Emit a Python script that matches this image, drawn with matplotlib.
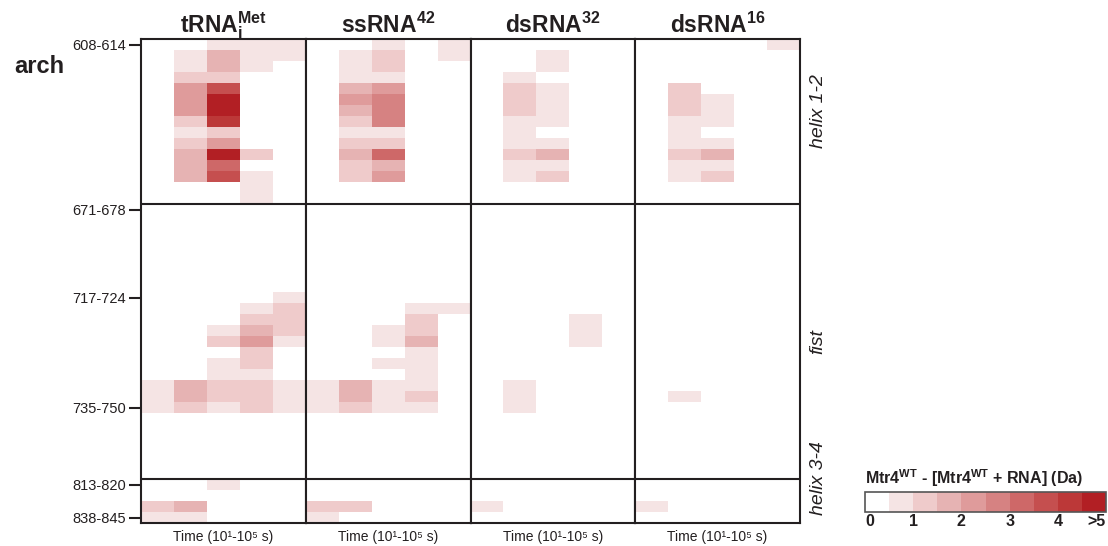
import numpy as np
import matplotlib
matplotlib.use("Agg")
import matplotlib.pyplot as plt
from matplotlib.colors import ListedColormap, BoundaryNorm
from matplotlib.cm import ScalarMappable

plt.rcParams['font.family'] = ['Liberation Sans', 'DejaVu Sans']
plt.rcParams['mathtext.fontset'] = 'custom'
plt.rcParams['mathtext.rm'] = 'Liberation Sans'
plt.rcParams['mathtext.bf'] = 'Liberation Sans:bold'
plt.rcParams['mathtext.it'] = 'Liberation Sans:italic'

# peptides (rows, top to bottom) and time points (columns)
n_rows = 44
n_times = 5
section_names = ["helix 1-2", "fist", "helix 3-4"]
section_breaks = [15, 40]
tick_rows = [0, 15, 23, 33, 40, 43]
tick_labels = ["608-614", "671-678", "717-724", "735-750", "813-820", "838-845"]

rna_names = [r"$\mathbf{tRNA_i^{Met}}$", r"$\mathbf{ssRNA^{42}}$",
             r"$\mathbf{dsRNA^{32}}$", r"$\mathbf{dsRNA^{16}}$"]

# deuterium difference (Da), row index -> values at the 5 time points
trna = {
    0: [0, 0, .7, .7, .7],
    1: [0, .7, 1.7, .7, .7],
    2: [0, .7, 1.7, .7, 0],
    3: [0, 1.2, 1.2, 0, 0],
    4: [0, 2.2, 3.7, 0, 0],
    5: [0, 2.2, 4.8, 0, 0],
    6: [0, 2.2, 4.8, 0, 0],
    7: [0, 1.2, 4.2, 0, 0],
    8: [0, .7, 1.2, 0, 0],
    9: [0, 1.2, 2.2, 0, 0],
    10: [0, 1.7, 4.8, 1.2, 0],
    11: [0, 1.7, 3.2, 0, 0],
    12: [0, 1.7, 3.7, .7, 0],
    13: [0, 0, 0, .7, 0],
    14: [0, 0, 0, .7, 0],
    23: [0, 0, 0, 0, .7],
    24: [0, 0, 0, .7, 1.2],
    25: [0, 0, 0, 1.2, 1.2],
    26: [0, 0, .7, 1.7, 1.2],
    27: [0, 0, 1.2, 2.2, .7],
    28: [0, 0, 0, 1.2, 0],
    29: [0, 0, .7, 1.2, 0],
    30: [0, 0, .7, .7, 0],
    31: [.7, 1.7, 1.2, 1.2, .7],
    32: [.7, 1.7, 1.2, 1.2, .7],
    33: [.7, 1.2, .7, 1.2, .7],
    40: [0, 0, .7, 0, 0],
    42: [1.2, 1.7, 0, 0, 0],
    43: [.7, .7, 0, 0, 0],
}

ssrna = {
    0: [0, 0, .7, 0, .7],
    1: [0, .7, 1.2, 0, .7],
    2: [0, .7, 1.2, 0, 0],
    3: [0, .7, .7, 0, 0],
    4: [0, 1.7, 2.2, 0, 0],
    5: [0, 2.2, 2.7, 0, 0],
    6: [0, 1.7, 2.7, 0, 0],
    7: [0, 1.2, 2.7, 0, 0],
    8: [0, .7, .7, 0, 0],
    9: [0, 1.2, 1.2, 0, 0],
    10: [0, 1.7, 3.2, 0, 0],
    11: [0, 1.2, 1.7, 0, 0],
    12: [0, 1.2, 2.2, 0, 0],
    24: [0, 0, 0, .7, .7],
    25: [0, 0, 0, 1.2, 0],
    26: [0, 0, .7, 1.2, 0],
    27: [0, 0, .7, 1.7, 0],
    28: [0, 0, 0, .7, 0],
    29: [0, 0, .7, .7, 0],
    30: [0, 0, 0, .7, 0],
    31: [.7, 1.7, .7, .7, 0],
    32: [.7, 1.7, .7, 1.2, 0],
    33: [.7, 1.2, .7, .7, 0],
    42: [1.2, 1.2, 0, 0, 0],
    43: [.7, 0, 0, 0, 0],
}

dsrna32 = {
    1: [0, 0, .7, 0, 0],
    2: [0, 0, .7, 0, 0],
    3: [0, .7, 0, 0, 0],
    4: [0, 1.2, .7, 0, 0],
    5: [0, 1.2, .7, 0, 0],
    6: [0, 1.2, .7, 0, 0],
    7: [0, .7, .7, 0, 0],
    8: [0, .7, 0, 0, 0],
    9: [0, .7, .7, 0, 0],
    10: [0, 1.2, 1.7, 0, 0],
    11: [0, .7, .7, 0, 0],
    12: [0, .7, 1.2, 0, 0],
    25: [0, 0, 0, .7, 0],
    26: [0, 0, 0, .7, 0],
    27: [0, 0, 0, .7, 0],
    31: [0, .7, 0, 0, 0],
    32: [0, .7, 0, 0, 0],
    33: [0, .7, 0, 0, 0],
    42: [.7, 0, 0, 0, 0],
}

dsrna16 = {
    0: [0, 0, 0, 0, .7],
    4: [0, 1.2, 0, 0, 0],
    5: [0, 1.2, .7, 0, 0],
    6: [0, 1.2, .7, 0, 0],
    7: [0, .7, .7, 0, 0],
    8: [0, .7, 0, 0, 0],
    9: [0, .7, .7, 0, 0],
    10: [0, 1.2, 1.7, 0, 0],
    11: [0, .7, .7, 0, 0],
    12: [0, .7, 1.2, 0, 0],
    32: [0, .7, 0, 0, 0],
    42: [.7, 0, 0, 0, 0],
}

panels = [trna, ssrna, dsrna32, dsrna16]

colors = ["#ffffff", "#f5e4e4", "#efcbcb", "#e6b3b3", "#df9b9b",
          "#d68282", "#ce6868", "#c54f4f", "#bc3838", "#b21f24"]
bounds = np.arange(0, 5.01, 0.5)
cmap = ListedColormap(colors)
cmap.set_over(colors[-1])
norm = BoundaryNorm(bounds, cmap.N)

dark = "#231f20"


def to_grid(d):
    g = np.zeros((n_rows, n_times))
    for r, vals in d.items():
        g[r] = vals
    return g


W, H = 1108, 546
fig = plt.figure(figsize=(W / 100, H / 100), dpi=100)

x0, x1 = 141.3, 799.7
y_top, y_bot = 39.3, 523
pw = (x1 - x0) / 4

axes = []
for i, d in enumerate(panels):
    ax = fig.add_axes([(x0 + i * pw) / W, (H - y_bot) / H, pw / W, (y_bot - y_top) / H])
    ax.pcolormesh(np.arange(n_times + 1), np.arange(n_rows + 1), to_grid(d),
                  cmap=cmap, norm=norm)
    ax.set_xlim(0, n_times)
    ax.set_ylim(n_rows, 0)
    for b in section_breaks:
        ax.axhline(b, color=dark, lw=1.5)
    for s in ax.spines.values():
        s.set_linewidth(1.5)
        s.set_color(dark)
    ax.set_xticks([])
    ax.set_yticks([])
    ax.text(0.5, 1.014, rna_names[i], transform=ax.transAxes, ha='center',
            va='baseline', fontsize=16.5, color=dark)
    ax.text(0.5, -0.037, "Time (10¹-10⁵ s)", transform=ax.transAxes,
            ha='center', va='baseline', fontsize=10, color=dark)
    axes.append(ax)

ax = axes[0]
ax.set_yticks(np.array(tick_rows) + 0.5)
ax.set_yticklabels(tick_labels, fontsize=10.5, color=dark)
ax.tick_params(axis='y', length=8.5, width=1.5, color=dark, pad=2.5)

fig.text(14 / W, (H - 73) / H, "arch", fontsize=17, fontweight='bold',
         color=dark, ha='left', va='baseline')

# section labels on the right
label_y = [111, 342, 478]
for name, yy in zip(section_names, label_y):
    fig.text(818 / W, (H - yy) / H, name, rotation=90, fontsize=14,
             fontstyle='italic', color=dark, ha='center', va='center')

# colour scale
cax = fig.add_axes([865 / W, (H - 512) / H, 241 / W, 20 / H])
cb = fig.colorbar(ScalarMappable(norm=norm, cmap=cmap), cax=cax,
                  orientation='horizontal', ticks=[0, 1, 2, 3, 4, 5])
cb.set_ticklabels(["0", "1", "2", "3", "4", ">5"])
cb.outline.set_linewidth(1.2)
cb.outline.set_edgecolor("#555555")
cax.minorticks_off()
cax.tick_params(which='both', length=0, pad=1.5)
for t in cax.get_xticklabels():
    t.set_fontweight('bold')
    t.set_fontsize(11.5)
    t.set_color(dark)
cax.get_xticklabels()[-1].set_horizontalalignment('right')
cax.get_xticklabels()[0].set_horizontalalignment('left')

fig.text(865 / W, (H - 478) / H, r"Mtr4$^{\mathbf{WT}}$ - [Mtr4$^{\mathbf{WT}}$ + RNA] (Da)",
         fontsize=11.5, fontweight='bold', color=dark, ha='left', va='center')

fig.savefig("out.png", dpi=100)
